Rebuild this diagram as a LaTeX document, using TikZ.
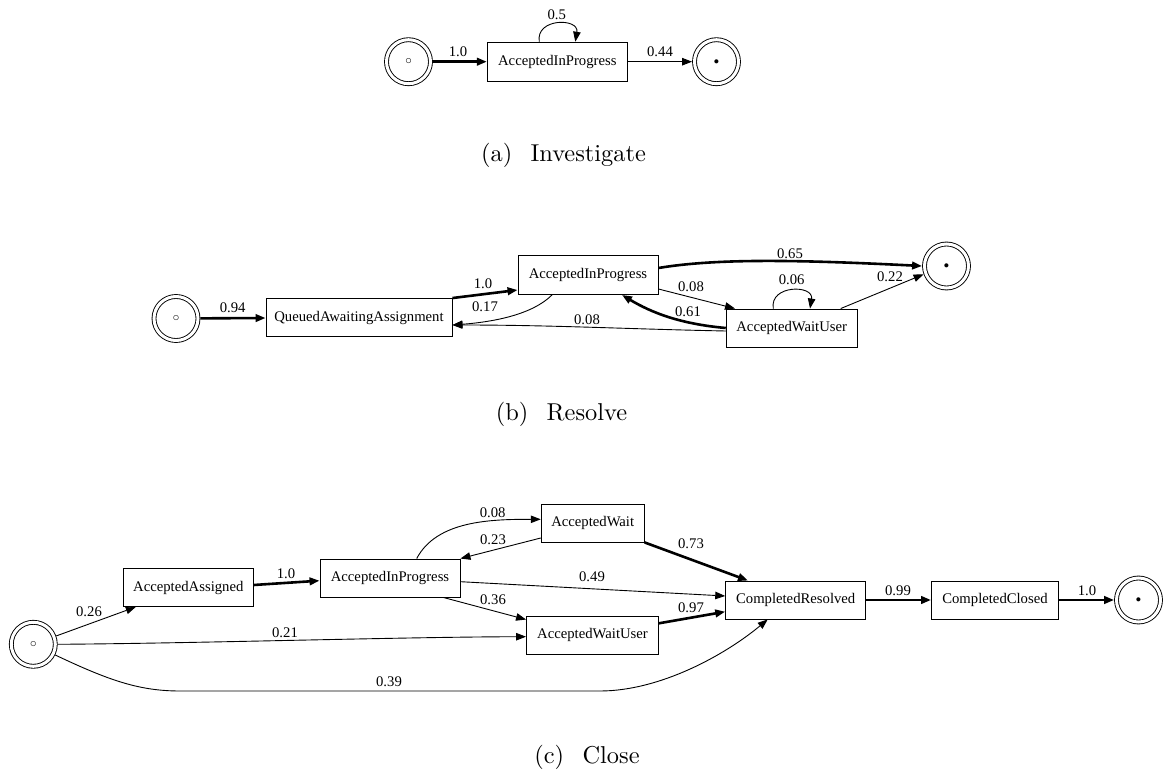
\documentclass[tikz,border=0pt]{standalone}
\usepackage{fontspec}
\newfontfamily\gvfont{Liberation Serif}
\newfontfamily\capfont{lmroman10-regular}[Extension=.otf]
\usetikzlibrary{positioning,arrows.meta}

\newcommand\startmark{{\fontsize{11.5}{12}\selectfont ○}}
\newcommand\finmark{{\fontsize{9.5}{10}\selectfont ●}}

\begin{document}
\begin{tikzpicture}[
		x=1pt, y=-1pt,
		>={Triangle[length=10pt,width=7.5pt]},
		every node/.style={font=\gvfont\fontsize{14.7}{16}\selectfont},
		act/.style={rectangle,draw=black,line width=0.9pt,minimum height=38pt,inner sep=0pt},
		term/.style={circle,draw=black,line width=0.9pt,double,double distance=3pt,minimum size=44pt,inner sep=0pt,outer sep=2.4pt},
		trans/.style={->,line width=0.9pt},
		heavy/.style={->,line width=2.6pt},
		lbl/.style={inner sep=0pt},
		subcap/.style={font=\capfont\fontsize{24.4}{28}\selectfont}
	]
		\useasboundingbox (0,0) rectangle (1163,775);

		% (a) Investigate
		\node[term] (s1) at (408.5,61.7) {\startmark};
		\node[act,minimum width=140pt,minimum height=39pt] (a1) at (557.3,61.7) {AcceptedInProgress};
		\node[term] (e1) at (716.5,61.7) {\finmark};
		\draw[heavy] (s1) -- (a1);
		\draw[trans] ([xshift=-18pt]a1.north) .. controls +(-4,-24) and +(4,-24) .. ([xshift=18pt]a1.north);
		\draw[trans] (a1) -- (e1);
		\node[lbl] (p1) at (458,52) {1.0};
		\node[lbl] (p2) at (556.7,15) {0.5};
		\node[lbl] (p3) at (660,52) {0.44};
		\node[subcap] (capa) at (563.5,155) {(a)\hspace{0.75em}Investigate};

		% (b) Resolve
		\node[term] (s2) at (176,318.5) {\startmark};
		\node[act,minimum width=186pt] (q2) at (359,317.5) {QueuedAwaitingAssignment};
		\node[act,minimum width=140pt,minimum height=39pt] (a2) at (588,275) {AcceptedInProgress};
		\node[act,minimum width=131pt] (w2) at (791.7,328) {AcceptedWaitUser};
		\node[term] (e2) at (946.5,266) {\finmark};
		\draw[heavy] (s2) -- (q2);
		\draw[heavy] (q2.north east) -- ([yshift=-15pt]a2.west);
		\draw[trans] ([xshift=-36pt]a2.south) .. controls +(-20,20) and +(40,-3) .. ([yshift=-7.5pt]q2.east);
		\draw[heavy] ([yshift=7pt]a2.east) .. controls +(60,-10) and +(-120,-6) .. (e2.west);
		\draw[trans] ([yshift=-14pt]a2.east) -- ([xshift=-56.7pt]w2.north);
		\draw[heavy] (w2.west) .. controls +(-45,-4) and +(30,18) .. ([xshift=34pt]a2.south);
		\draw[trans] ([yshift=-3pt]w2.west) .. controls +(-100,-2) and +(100,0) .. ([yshift=-7.5pt]q2.east);
		\draw[trans] ([xshift=-18.4pt]w2.north) .. controls +(-4,-24) and +(4,-24) .. ([xshift=18.3pt]w2.north);
		\draw[trans] ([xshift=49pt]w2.north) -- (e2.200);
		\node[lbl] (r1) at (232.7,308) {0.94};
		\node[lbl] (r2) at (483,284) {1.0};
		\node[lbl] (r3) at (485,307) {0.17};
		\node[lbl] (r4) at (790,254) {0.65};
		\node[lbl] (r5) at (691,286.7) {0.08};
		\node[lbl] (r6) at (688,311.5) {0.61};
		\node[lbl] (r7) at (587,320) {0.08};
		\node[lbl] (r8) at (791.7,280) {0.06};
		\node[lbl] (r9) at (890,277) {0.22};
		\node[subcap] (capb) at (561.5,414) {(b)\hspace{0.75em}Resolve};

		% (c) Close
		\node[term] (s3) at (33.3,644.3) {\startmark};
		\node[act,minimum width=130pt] (aa3) at (188.3,587.5) {AcceptedAssigned};
		\node[act,minimum width=140pt] (ai3) at (390,578) {AcceptedInProgress};
		\node[act,minimum width=103pt] (aw3) at (592.7,523) {AcceptedWait};
		\node[act,minimum width=132pt] (au3) at (592.5,635) {AcceptedWaitUser};
		\node[act,minimum width=140pt] (cr3) at (795.7,600) {CompletedResolved};
		\node[act,minimum width=127pt] (cc3) at (995,600) {CompletedClosed};
		\node[term] (e3) at (1138.5,600) {\finmark};
		\draw[trans] (s3) -- ([xshift=13pt]aa3.south west);
		\draw[heavy] ([yshift=2.5pt]aa3.east) -- ([yshift=-2.7pt]ai3.west);
		\draw[trans] (s3.east) .. controls +(143,-1) and +(-126,0.3) .. ([yshift=-1.7pt]au3.west);
		\draw[trans] (s3.-26) .. controls (110,681) and (140,691) .. (180,691) -- (600,691)
			.. controls (660,691) and (725,655) .. ([xshift=-28pt]cr3.south);
		\draw[trans] ([xshift=26.7pt]ai3.north) .. controls +(20,-38) and +(-50,0) .. ([yshift=3.7pt]aw3.west);
		\draw[trans] ([yshift=-15pt]aw3.west) -- (ai3.north east);
		\draw[heavy] (aw3.south east) -- ([xshift=-47.7pt]cr3.north);
		\draw[trans] ([yshift=-3.7pt]ai3.east) -- ([yshift=4pt]cr3.west);
		\draw[trans] ([xshift=53.3pt]ai3.south) -- ([yshift=-4pt]au3.north west);
		\draw[heavy] ([yshift=11.7pt]au3.east) -- ([yshift=-11.7pt]cr3.west);
		\draw[heavy] (cr3) -- (cc3);
		\draw[heavy] (cc3) -- (e3);
		\node[lbl] (t1) at (89,612) {0.26};
		\node[lbl] (t2) at (286,574) {1.0};
		\node[lbl] (t3) at (285,632.7) {0.21};
		\node[lbl] (t4) at (389,681.7) {0.39};
		\node[lbl] (t5) at (492.7,512.7) {0.08};
		\node[lbl] (t6) at (493,540) {0.23};
		\node[lbl] (t7) at (691,544) {0.73};
		\node[lbl] (t8) at (592,577) {0.49};
		\node[lbl] (t9) at (493,600) {0.36};
		\node[lbl] (t10) at (691,608) {0.97};
		\node[lbl] (t11) at (898,591) {0.99};
		\node[lbl] (t12) at (1087,591) {1.0};
		\node[subcap] (capc) at (587,757) {(c)\hspace{0.75em}Close};
	\end{tikzpicture}
\end{document}
